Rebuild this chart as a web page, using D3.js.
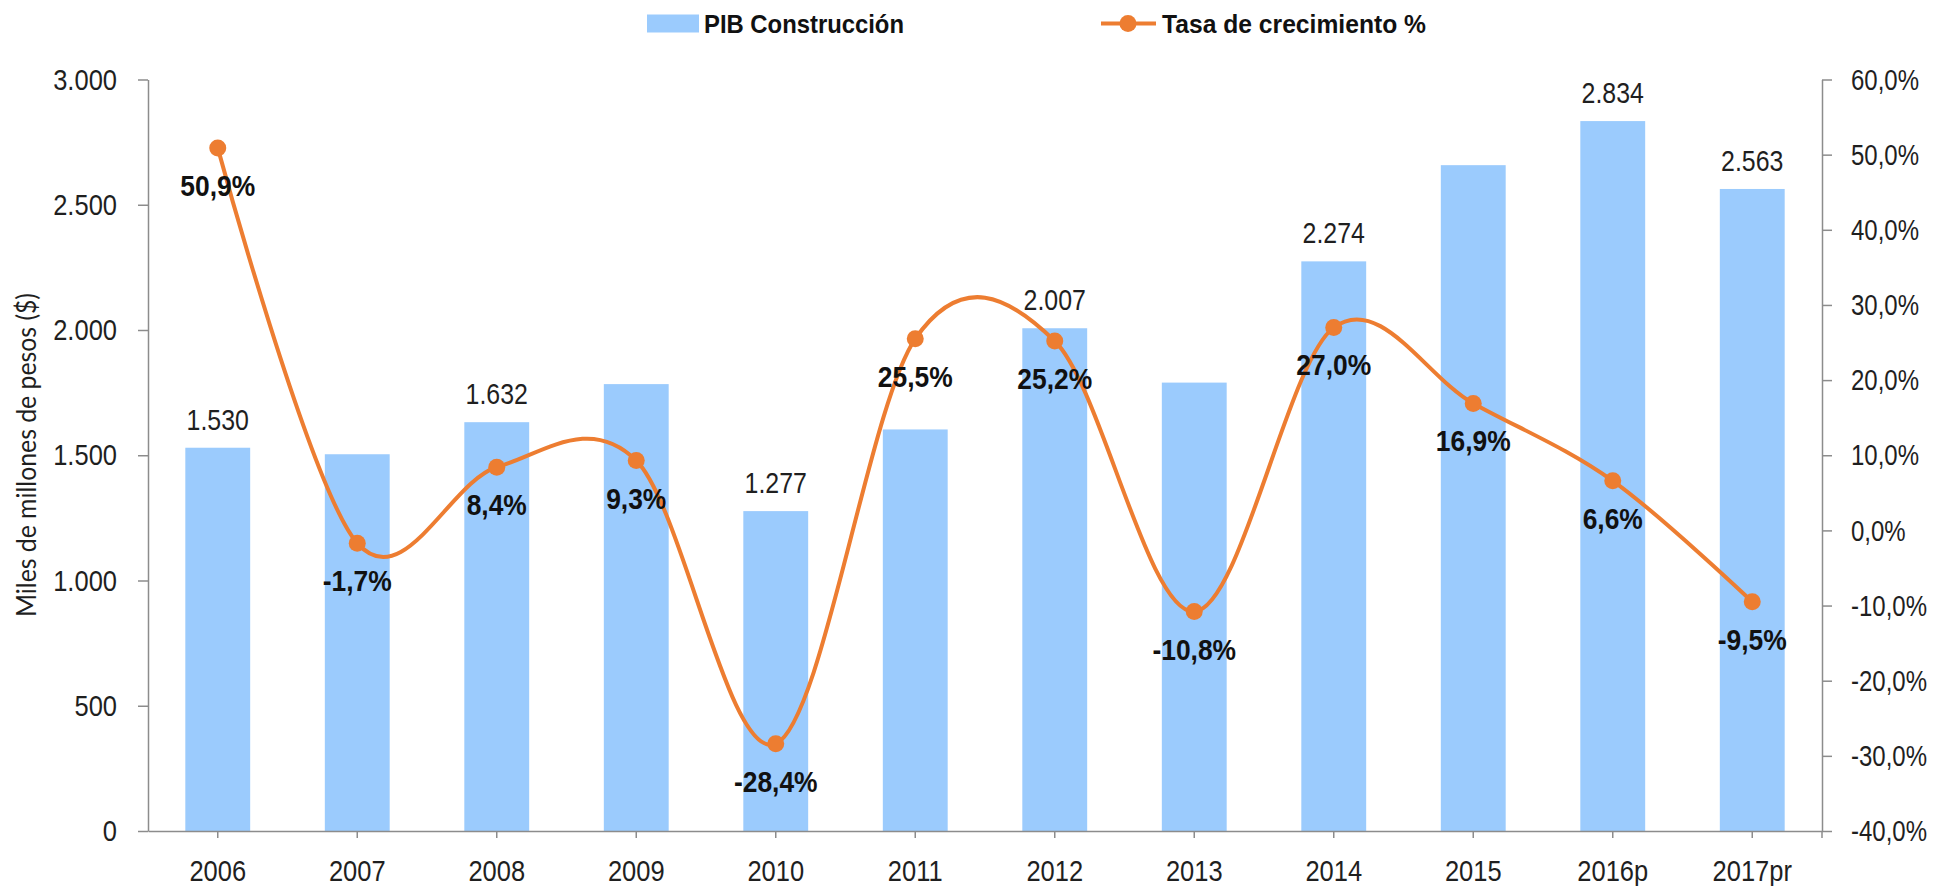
<!DOCTYPE html>
<html>
<head>
<meta charset="utf-8">
<script src="https://cdn.jsdelivr.net/npm/d3@7"></script>
<style>
  body { margin: 0; background: #fff; }
  svg { display: block; }
  .num { font-family: "Liberation Sans", Arial, sans-serif; }
</style>
</head>
<body>
<script>
const categories = ['2006', '2007', '2008', '2009', '2010', '2011', '2012', '2013', '2014', '2015', '2016p', '2017pr']
const pib = [1530, 1504, 1632, 1784, 1277, 1603, 2007, 1790, 2274, 2658, 2834, 2563]
const growth = [50.9, -1.7, 8.4, 9.3, -28.4, 25.5, 25.2, -10.8, 27.0, 16.9, 6.6, -9.5]
const labeledBars = ['2006', '2008', '2010', '2012', '2014', '2016p', '2017pr']
const leftTicks = [0, 500, 1000, 1500, 2000, 2500, 3000]
const rightTicks = [-40, -30, -20, -10, 0, 10, 20, 30, 40, 50, 60]

const data = categories.map((c, i) => ({ cat: c, pib: pib[i], rate: growth[i] }))

const W = 1937
const H = 886
const margin = { top: 79.5, right: 115, bottom: 55, left: 148 }

const svg = d3.select('body').append('svg')
  .attr('width', W)
  .attr('height', H)

const innerW = W - margin.left - margin.right
const innerH = H - margin.top - margin.bottom

const locale = d3.formatLocale({ decimal: ',', thousands: '.', grouping: [3], currency: ['$', ''], minus: '-' })
const fmtInt = locale.format(',d')
const fmtPct = (d) => locale.format('.1f')(d) + '%'

// the original font is narrow: squeeze each text to a share of its natural width
const condense = (sel, k) => sel.each(function () {
  const w = this.getComputedTextLength()
  d3.select(this).attr('textLength', w * k).attr('lengthAdjust', 'spacingAndGlyphs')
})

const x = d3.scaleBand().domain(categories).range([0, innerW]).paddingInner(0.535).paddingOuter(0.2675)
const y = d3.scaleLinear().domain([0, 3000]).range([innerH, 0])
const y2 = d3.scaleLinear().domain([-40, 60]).range([innerH, 0])

const g = svg.append('g').attr('transform', `translate(${margin.left},${margin.top})`)

const axisColor = '#8c8c8c'
const textColor = '#1f1f1f'
const blue = '#9bcbfd'
const orange = '#ed7d31'

// bars
g.selectAll('.bar')
  .data(data)
  .enter()
  .append('rect')
  .attr('class', 'bar')
  .attr('x', (d) => x(d.cat))
  .attr('y', (d) => y(d.pib))
  .attr('width', x.bandwidth())
  .attr('height', (d) => innerH - y(d.pib))
  .attr('fill', blue)

// bar value labels
g.selectAll('.bar-label')
  .data(data.filter((d) => labeledBars.includes(d.cat)))
  .enter()
  .append('text')
  .attr('class', 'bar-label num')
  .attr('x', (d) => x(d.cat) + x.bandwidth() / 2)
  .attr('y', (d) => y(d.pib) - 18)
  .attr('text-anchor', 'middle')
  .attr('font-size', 30)
  .attr('fill', textColor)
  .text((d) => fmtInt(d.pib))
  .call(condense, 0.83)

// axes
const styleLines = (sel) => {
  sel.selectAll('.domain').attr('stroke', axisColor).attr('stroke-width', 1.5)
  sel.selectAll('.tick line').attr('stroke', axisColor).attr('stroke-width', 1.5)
  sel.selectAll('.tick text').attr('fill', textColor).attr('class', 'num').attr('font-size', 30)
}

g.append('g')
  .attr('class', 'axis is-y')
  .call(d3.axisLeft(y).tickValues(leftTicks).tickFormat(fmtInt).tickSize(10).tickSizeOuter(0).tickPadding(21))
  .call(styleLines)
  .call((s) => s.selectAll('.tick text').call(condense, 0.85))

// right labels sit at the page edge: squeeze them with a transform
g.append('g')
  .attr('class', 'axis is-y2')
  .attr('transform', `translate(${innerW},0)`)
  .call(d3.axisRight(y2).tickValues(rightTicks).tickFormat(fmtPct).tickSize(10).tickSizeOuter(0).tickPadding(19))
  .call(styleLines)
  .call((s) => s.selectAll('.tick text').each(function () {
    const t = d3.select(this)
    const x0 = +t.attr('x')
    t.attr('x', 0).attr('transform', `translate(${x0},0) scale(0.8,1)`)
  }))

const xAxis = g.append('g')
  .attr('class', 'axis is-x')
  .attr('transform', `translate(0,${innerH})`)
  .call(d3.axisBottom(x).tickSize(7).tickSizeOuter(0).tickPadding(22))
  .call(styleLines)
  .call((s) => s.selectAll('.tick text').call(condense, 0.85))

xAxis.append('line')
  .attr('x1', innerW).attr('x2', innerW)
  .attr('y1', 0).attr('y2', 7)
  .attr('stroke', axisColor)
  .attr('stroke-width', 1.5)

// y axis title
svg.append('text')
  .attr('transform', 'translate(27,455) rotate(-90)')
  .attr('text-anchor', 'middle')
  .attr('dy', '0.35em')
  .attr('font-family', 'Lato, "Open Sans", sans-serif')
  .attr('font-size', 26)
  .attr('fill', textColor)
  .attr('textLength', 324)
  .attr('lengthAdjust', 'spacingAndGlyphs')
  .text('Miles de millones de pesos ($)')

// growth line
const cx = (d) => x(d.cat) + x.bandwidth() / 2
const line = d3.line()
  .x(cx)
  .y((d) => y2(d.rate))
  .curve(d3.curveCardinal.tension(0))

g.append('path')
  .datum(data)
  .attr('fill', 'none')
  .attr('stroke', orange)
  .attr('stroke-width', 4)
  .attr('d', line)

g.selectAll('.dot')
  .data(data)
  .enter()
  .append('circle')
  .attr('class', 'dot')
  .attr('cx', cx)
  .attr('cy', (d) => y2(d.rate))
  .attr('r', 8.5)
  .attr('fill', orange)

g.selectAll('.rate-label')
  .data(data)
  .enter()
  .append('text')
  .attr('class', 'rate-label num')
  .attr('x', cx)
  .attr('y', (d) => y2(d.rate) + 48)
  .attr('text-anchor', 'middle')
  .attr('font-size', 30)
  .attr('font-weight', 'bold')
  .attr('fill', '#111')
  .text((d) => fmtPct(d.rate))
  .call(condense, 0.88)

// legend
const legend = svg.append('g').attr('class', 'legend')
legend.append('rect')
  .attr('x', 647).attr('y', 14.5)
  .attr('width', 52).attr('height', 18)
  .attr('fill', blue)
legend.append('text')
  .attr('class', 'num')
  .attr('x', 704).attr('y', 33)
  .attr('font-size', 26)
  .attr('font-weight', 'bold')
  .attr('fill', '#111')
  .attr('textLength', 200)
  .attr('lengthAdjust', 'spacingAndGlyphs')
  .text('PIB Construcción')
legend.append('line')
  .attr('x1', 1101).attr('x2', 1156)
  .attr('y1', 23.5).attr('y2', 23.5)
  .attr('stroke', orange)
  .attr('stroke-width', 4)
legend.append('circle')
  .attr('cx', 1128).attr('cy', 23.5).attr('r', 8.5)
  .attr('fill', orange)
legend.append('text')
  .attr('class', 'num')
  .attr('x', 1162).attr('y', 33)
  .attr('font-size', 26)
  .attr('font-weight', 'bold')
  .attr('fill', '#111')
  .attr('textLength', 264)
  .attr('lengthAdjust', 'spacingAndGlyphs')
  .text('Tasa de crecimiento %')
</script>
</body>
</html>
